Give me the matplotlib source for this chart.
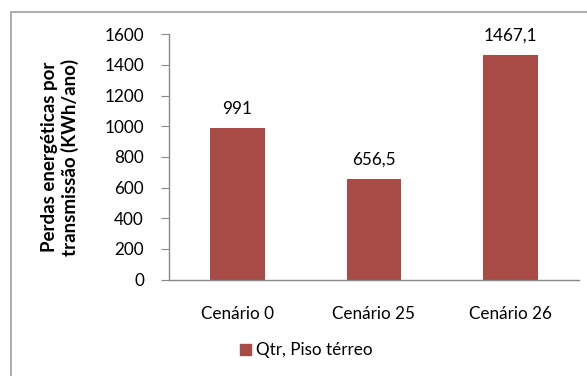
import matplotlib
matplotlib.use("Agg")
import matplotlib.pyplot as plt
from matplotlib.patches import Rectangle

plt.rcParams['font.family'] = ['Lato', 'DejaVu Sans']

categories = ["Cenário 0", "Cenário 25", "Cenário 26"]
values = [991, 656.5, 1467.1]
value_labels = ["991", "656,5", "1467,1"]
series_name = "Qtr, Piso térreo"
yticks = [0, 200, 400, 600, 800, 1000, 1200, 1400, 1600]

W, H = 587, 376
FS = 12.3
fig = plt.figure(figsize=(W / 100, H / 100), dpi=100)

# chart frame (only top and left edges fall inside the image)
fig.add_artist(Rectangle((11 / W, -0.1), 1.2, (H - 12) / H + 0.1,
                         transform=fig.transFigure, fill=False,
                         edgecolor="#A6A6A6", linewidth=1.3))

ax = fig.add_axes([169 / W, (H - 279.5) / H, (579 - 169) / W, (279.5 - 34.3) / H])
bar_color = "#A84A45"
x = range(len(categories))
bars = ax.bar(x, values, width=0.4, color=bar_color)
ax.set_xlim(-0.5, len(categories) - 0.5)
ax.set_ylim(0, 1600)
ax.set_yticks(yticks)
ax.set_yticklabels([str(t) for t in yticks], fontsize=FS)
ax.set_xticks(list(x))
ax.set_xticklabels(categories, fontsize=FS)

for s in ["top", "right"]:
    ax.spines[s].set_visible(False)
for s in ["left", "bottom"]:
    ax.spines[s].set_color("#888888")
    ax.spines[s].set_linewidth(1.0)
ax.tick_params(axis="y", length=6, color="#888888", pad=12, labelcolor="black")
ax.tick_params(axis="x", length=0, pad=19, labelcolor="black")

for b, lab in zip(bars, value_labels):
    ax.annotate(lab, (b.get_x() + b.get_width() / 2, b.get_height()),
                xytext=(0, 19), textcoords="offset pixels",
                ha="center", va="center", fontsize=FS)

fig.text(60 / W, 1 - 157 / H, "Perdas energéticas por\ntransmissão (KWh/ano)",
         rotation=90, ha="center", va="center", fontsize=13.5, fontweight="bold",
         linespacing=1.15)

# legend
fig.add_artist(Rectangle((240 / W, 1 - 355 / H), 11 / W, 11 / H,
                         transform=fig.transFigure, color=bar_color))
fig.text(256 / W, 1 - 350 / H, series_name, ha="left", va="center", fontsize=FS)

fig.savefig("out.png", dpi=100)
